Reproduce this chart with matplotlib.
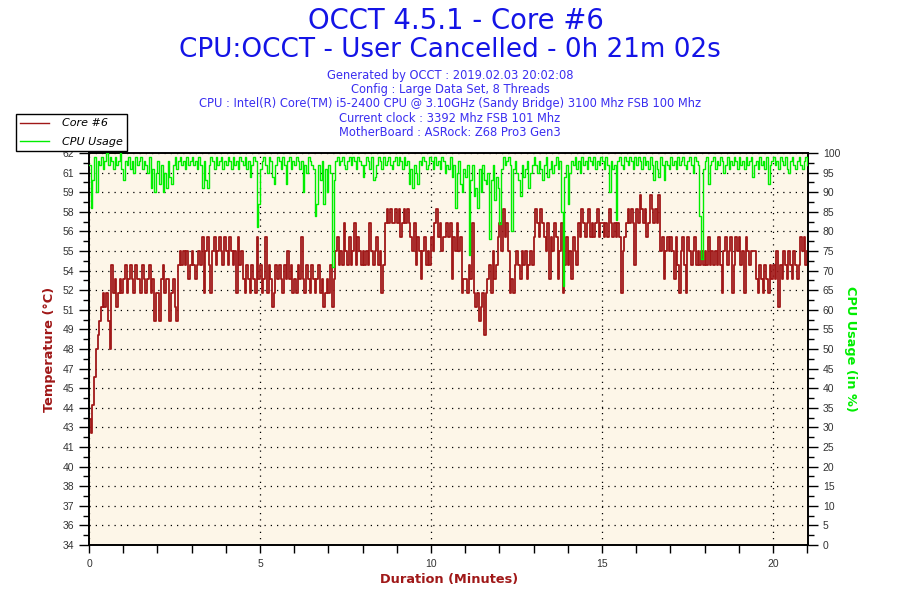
import numpy as np
import matplotlib
matplotlib.use("Agg")
import matplotlib.pyplot as plt
from matplotlib.ticker import FixedLocator, MultipleLocator, FixedFormatter
from matplotlib.lines import Line2D
from matplotlib import font_manager

# ---------------- data ----------------
step_min = 0.05  # sampling interval in minutes (3 s)

temp_rows = [
    [43,42,44,46,48,49,50,51,52,51,52,50,48,54,52,53,51,52,53,52],
    [53,54,52,53,54,53,52,54,53,53,52,54,53,52,53,54,52,53,50,52],
    [52,50,53,54,52,53,53,50,52,53,51,50,54,55,54,55,54,55,53,54],
    [55,54,53,54,55,54,56,52,55,56,54,52,55,56,54,55,56,55,54,56],
    [55,54,56,55,54,55,52,56,54,55,53,52,54,53,52,54,53,52,56,53],
    [54,52,53,56,52,54,53,51,52,54,53,54,53,52,54,53,55,53,54,52],
    [53,52,54,53,56,53,52,54,53,52,54,53,52,53,54,52,53,51,52,53],
    [52,54,51,53,55,56,54,55,54,57,55,54,56,54,55,57,54,56,55,54],
    [55,54,55,54,57,55,54,55,56,54,55,52,54,57,58,57,58,57,57,58],
    [57,58,56,57,58,57,58,57,56,55,57,54,56,55,53,55,56,54,55,54],
    [56,55,57,58,56,57,55,56,56,57,56,57,53,56,55,57,55,56,52,53],
    [53,52,54,53,57,52,51,52,50,51,52,49,52,53,54,52,55,53,54,56],
    [57,55,58,56,57,55,52,53,52,54,55,54,53,55,54,55,53,54,55,54],
    [56,58,57,56,58,57,56,55,57,53,56,55,57,56,53,55,57,52,54,56],
    [54,55,53,56,55,54,57,56,58,57,56,57,58,56,57,56,57,58,56,57],
    [57,56,57,56,58,57,56,57,56,57,56,52,55,56,57,58,57,58,57,54],
    [58,57,59,58,57,58,56,57,59,58,57,58,57,59,55,56,53,55,56,55],
    [56,55,53,56,54,52,55,56,54,52,56,55,54,55,56,54,55,54,55,54],
    [55,54,56,54,55,54,55,54,56,54,52,55,56,54,55,56,52,54,56,55],
    [56,54,55,52,56,55,54,55,55,55,53,52,54,53,52,54,53,52,54,53],
    [54,53,55,51,54,53,55,54,53,55,54,53,55,54,53,54,56,55,56,54],
    [55],
]

cpu_rows = [
    [97,86,93,99,90,98,97,99,96,98,100,97,99,98,96,99,97,98,100,96],
    [93,98,97,99,96,98,95,99,97,98,99,96,98,97,95,99,91,96,90,95],
    [98,92,97,90,95,91,98,94,92,97,99,96,98,99,97,98,96,99,97,98],
    [99,97,98,96,99,97,91,98,93,91,97,99,98,96,99,97,98,99,96,98],
    [97,99,98,96,99,97,98,96,99,98,97,99,96,98,94,97,99,98,81,87],
    [96,98,99,97,95,99,98,94,92,97,99,98,96,99,97,92,98,99,96,98],
    [97,99,98,96,98,90,97,95,99,98,97,96,84,87,97,93,98,87,96,90],
    [97,95,71,93,98,99,97,98,99,97,96,98,99,97,99,98,96,99,98,97],
    [94,97,99,98,96,99,93,94,97,99,98,96,99,97,98,99,97,96,98,99],
    [97,99,98,96,99,97,98,92,96,91,97,95,92,98,97,99,98,96,97,99],
    [98,96,99,97,98,96,99,98,95,97,96,99,94,97,86,95,98,92,90,96],
    [94,97,74,93,97,89,91,86,96,90,97,93,92,95,78,93,97,88,94,91],
    [82,96,99,97,98,99,97,80,96,98,95,93,89,97,94,96,98,91,95,97],
    [99,97,95,98,96,93,97,99,94,96,98,95,97,99,96,98,85,66,94,97],
    [87,95,98,97,99,96,98,95,99,97,98,96,99,98,97,99,96,98,97,99],
    [98,96,99,97,90,98,96,97,83,98,99,97,96,99,98,97,99,98,96,99],
    [97,99,98,96,99,97,98,96,99,97,93,98,96,94,99,97,93,98,97,96],
    [99,97,98,96,99,97,98,99,97,96,98,99,97,95,99,98,97,84,73,96],
    [98,99,92,97,98,99,96,98,97,99,98,95,97,99,96,98,97,99,98,96],
    [99,97,98,96,99,97,98,99,94,97,98,96,99,97,98,96,99,92,97,98],
    [99,97,98,96,99,98,97,99,96,95,98,99,97,96,98,99,97,96,98,99],
    [97],
]

temp_ticklabels = ["34","36","37","38","40","41","43","44","45","47","48",
                   "49","51","52","54","55","56","58","59","61","62"]
x_ticklabels = ["0", "5", "10", "15", "20"]
x_ticks = [0, 5, 10, 15, 20]

title1 = "OCCT 4.5.1 - Core #6"
title2 = "CPU:OCCT - User Cancelled - 0h 21m 02s"
info_lines = [
    "Generated by OCCT : 2019.02.03 20:02:08",
    "Config : Large Data Set, 8 Threads",
    "CPU : Intel(R) Core(TM) i5-2400 CPU @ 3.10GHz (Sandy Bridge) 3100 Mhz FSB 100 Mhz",
    "Current clock : 3392 Mhz FSB 101 Mhz",
    "MotherBoard : ASRock: Z68 Pro3 Gen3",
]

temp = np.array([v for r in temp_rows for v in r], dtype=float)
cpu = np.array([v for r in cpu_rows for v in r], dtype=float)
t = np.arange(len(temp)) * step_min

# ---------------- styles ----------------
RED = "#A01818"
GREEN = "#00EE00"
BG = "#FDF6E8"

names = {f.name for f in font_manager.fontManager.ttflist}
if "Liberation Sans Narrow" in names:
    label_font = dict(family="Liberation Sans Narrow", fontsize=10.5)
else:
    label_font = dict(family="DejaVu Sans", fontsize=9.3)

fig = plt.figure(figsize=(9, 6), dpi=100)
fig.patch.set_facecolor("white")
ax = fig.add_axes([0.0989, 0.0917, 0.7991, 0.6533])
ax.set_facecolor(BG)

ax.plot(t, temp, color=RED, lw=1.3, drawstyle="steps-post", zorder=3)
ax.set_xlim(0, 21.03)
ax.set_ylim(34, 62)

ax2 = ax.twinx()
ax2.patch.set_visible(False)
ax2.plot(t, cpu, color=GREEN, lw=1.0, drawstyle="steps-post", zorder=4)
ax2.set_ylim(0, 100)

# ticks
ymaj = np.linspace(34, 62, 21)
ax.yaxis.set_major_locator(FixedLocator(ymaj))
ax.yaxis.set_major_formatter(FixedFormatter(temp_ticklabels))
ax.yaxis.set_minor_locator(FixedLocator(ymaj[:-1] + 0.7))
ax.xaxis.set_major_locator(FixedLocator(x_ticks))
ax.xaxis.set_major_formatter(FixedFormatter(x_ticklabels))
ax.xaxis.set_minor_locator(MultipleLocator(1))
ax2.yaxis.set_major_locator(MultipleLocator(5))
ax2.yaxis.set_minor_locator(MultipleLocator(2.5))

tick_font = dict(labelsize=7.5, labelcolor="#333333", color="black")
ax.tick_params(axis="y", which="major", direction="out", length=7, width=1, **tick_font)
ax.tick_params(axis="y", which="minor", direction="out", length=4, width=1)
ax.tick_params(axis="x", which="major", direction="out", length=6, width=1, pad=4, **tick_font)
ax.tick_params(axis="x", which="minor", direction="out", length=6, width=1)
ax2.tick_params(axis="y", which="major", direction="out", length=7, width=1, **tick_font)
ax2.tick_params(axis="y", which="minor", direction="out", length=4, width=1)

for lab in ax.get_xticklabels() + ax.get_yticklabels() + ax2.get_yticklabels():
    lab.set_family(["Liberation Sans", "DejaVu Sans"])

# grid
ax.grid(True, which="major", axis="both", color="black", lw=0.9,
        linestyle=(0, (1, 4)), zorder=1)
ax.set_axisbelow(True)

for a in (ax, ax2):
    for s in a.spines.values():
        s.set_color("black")
        s.set_linewidth(1.2)

# axis labels
ax.set_xlabel("Duration (Minutes)", color=RED, fontweight="bold",
              labelpad=3, **label_font)
ax.set_ylabel("Temperature (°C)", color=RED, fontweight="bold",
              labelpad=5, **label_font)
ax2.set_ylabel("CPU Usage (in %)", color=GREEN, fontweight="bold",
               rotation=270, labelpad=12, **label_font)

# titles
fig.text(0.507, 0.965, title1, ha="center", va="center", fontsize=19.8, color="#1414E6")
fig.text(0.5, 0.916, title2, ha="center", va="center", fontsize=18.9, color="#1414E6")
for i, line in enumerate(info_lines):
    fig.text(0.5, 1 - (76 + 14 * i) / 600, line, ha="center", va="center",
             fontsize=8.3, color="#3A2EF0")

# legend
handles = [Line2D([], [], color=RED, lw=1), Line2D([], [], color=GREEN, lw=1)]
leg = fig.legend(handles, ["Core #6", "CPU Usage"], loc="upper left",
                 bbox_to_anchor=(16 / 900, 1 - 114 / 600), frameon=True,
                 fancybox=False, edgecolor="black", framealpha=1,
                 prop=dict(size=8, style="italic"), handlelength=2.6,
                 borderpad=0.4, labelspacing=0.75, handletextpad=1.1,
                 borderaxespad=0)
leg.get_frame().set_linewidth(1.0)
leg.set_zorder(10)

fig.savefig("out.png", dpi=100, facecolor="white")
